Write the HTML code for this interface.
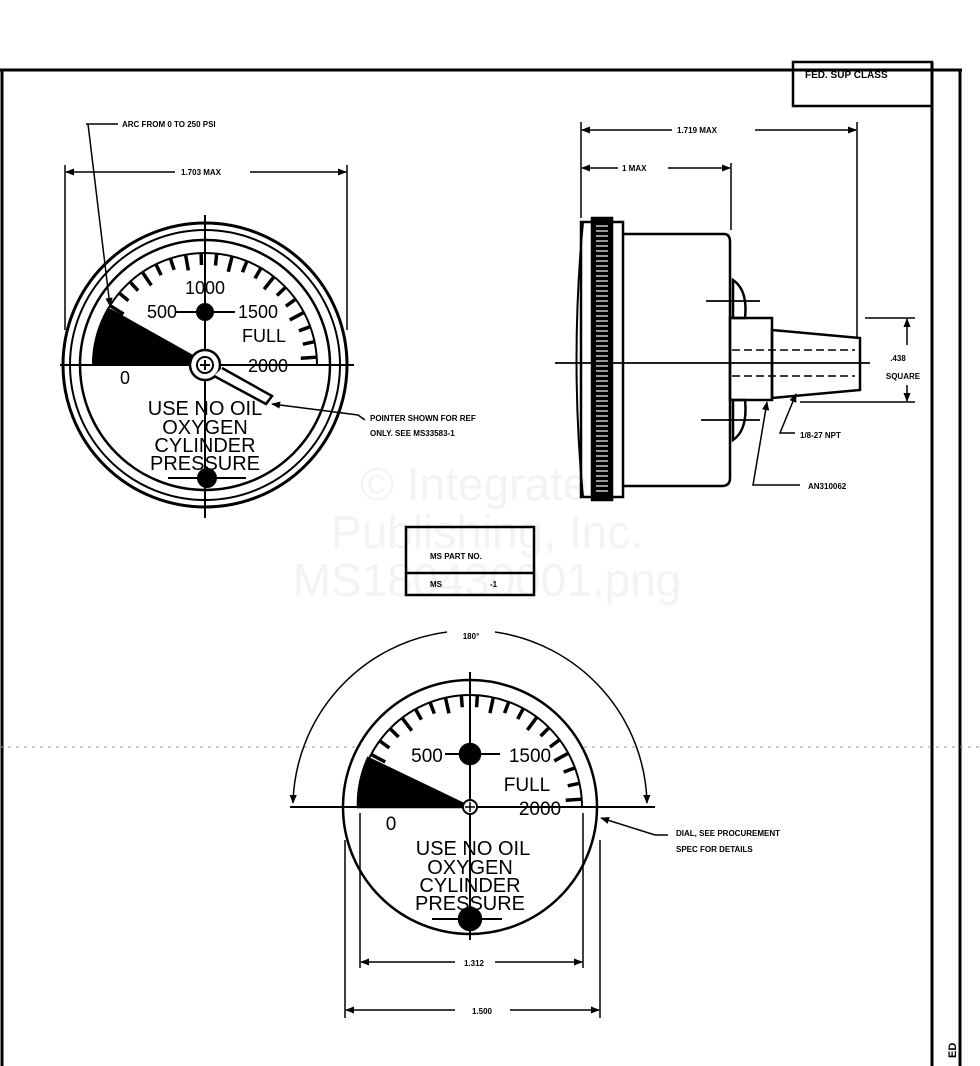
<!DOCTYPE html>
<html><head><meta charset="utf-8"><style>
html,body{margin:0;padding:0;background:#fff;}
svg{display:block;}
.t{font-family:"Liberation Sans",sans-serif;font-weight:bold;fill:#000;}
.d{font-family:"Liberation Sans",sans-serif;fill:#000;}
.w{font-family:"Liberation Sans",sans-serif;fill:#f3f3f3;font-size:46px;}
</style></head><body>
<svg id="s" width="980" height="1066" viewBox="0 0 980 1066" xmlns="http://www.w3.org/2000/svg" stroke="#000" fill="none">
<defs>
<marker id="a" viewBox="0 0 10 10" refX="9" refY="5" markerWidth="6" markerHeight="6" orient="auto-start-reverse"><path d="M0 1 L10 5 L0 9 Z" fill="#000" stroke="none"/></marker>
</defs>
<g stroke="none">
<text class="w" x="487" y="500" text-anchor="middle">© Integrated</text>
<text class="w" x="487" y="548" text-anchor="middle">Publishing, Inc.</text>
<text class="w" x="487" y="596" text-anchor="middle">MS180430001.png</text>
</g>
<line x1="0" y1="70" x2="962" y2="70" stroke-width="3"/>
<line x1="2" y1="70" x2="2" y2="1066" stroke-width="3"/>
<line x1="932" y1="62" x2="932" y2="1066" stroke-width="3"/>
<line x1="960" y1="70" x2="960" y2="1066" stroke-width="3"/>
<rect x="793" y="62" width="139" height="44" stroke-width="2.5"/>
<text class="t" x="805" y="78" font-size="10" stroke="none">FED. SUP CLASS</text>
<text class="t" x="956" y="1058" font-size="11" stroke="none" transform="rotate(-90 956 1058)">ED</text>

<g stroke-width="2">
<circle cx="205" cy="365" r="142" stroke-width="3"/>
<circle cx="205" cy="365" r="135"/>
<circle cx="205" cy="365" r="125" stroke-width="2.5"/>
<path d="M93 365 A112 112 0 0 1 317 365" stroke-width="2"/>
<path d="M205 365 L93 365 A112 112 0 0 1 108 309 Z" fill="#000"/>
<line x1="110" y1="310" x2="192" y2="356" stroke-width="3"/>
<line x1="60" y1="365" x2="354" y2="365"/>
<line x1="205" y1="215" x2="205" y2="518"/>
<circle cx="205" cy="365" r="15" stroke-width="2.5" fill="#fff"/>
<circle cx="205" cy="365" r="8"/>
<line x1="200" y1="365" x2="210" y2="365"/><line x1="205" y1="360" x2="205" y2="370"/>
<path d="M214 376 L266 404 L272 396 L222 368" stroke-width="2.5" fill="#fff"/>
<circle cx="205" cy="312" r="8" fill="#000"/>
<line x1="175" y1="312" x2="235" y2="312"/>
<circle cx="207" cy="478" r="9" fill="#000"/>
<line x1="168" y1="478" x2="246" y2="478"/>
<g id="ticks1"></g>
</g>
<g stroke="none" font-size="18">
<text x="205" y="294" text-anchor="middle" class="d">1000</text>
<text x="162" y="318" text-anchor="middle" class="d">500</text>
<text x="258" y="318" text-anchor="middle" class="d">1500</text>
<text x="264" y="342" text-anchor="middle" class="d">FULL</text>
<text x="268" y="372" text-anchor="middle" class="d">2000</text>
<text x="125" y="384" text-anchor="middle" class="d">0</text>
<text x="205" y="415" text-anchor="middle" font-size="20" class="d">USE NO OIL</text>
<text x="205" y="434" text-anchor="middle" font-size="20" class="d">OXYGEN</text>
<text x="205" y="452" text-anchor="middle" font-size="20" class="d">CYLINDER</text>
<text x="205" y="470" text-anchor="middle" font-size="20" class="d">PRESSURE</text>
</g>
<g stroke-width="1.5">
<line x1="65" y1="165" x2="65" y2="330"/>
<line x1="347" y1="165" x2="347" y2="330"/>
<line x1="175" y1="172" x2="66" y2="172" marker-end="url(#a)"/><line x1="250" y1="172" x2="346" y2="172" marker-end="url(#a)"/>
<polyline points="86,124 118,124"/>
<line x1="88" y1="124" x2="110" y2="306" marker-end="url(#a)"/>
<polyline points="365,420 358,415 272,404" marker-end="url(#a)"/>
</g>
<g stroke="none" class="t" font-size="8">
<text x="122" y="127">ARC FROM 0 TO 250 PSI</text>
<text x="181" y="175">1.703 MAX</text>
<text x="370" y="421">POINTER SHOWN FOR REF</text>
<text x="370" y="436">ONLY.  SEE MS33583-1</text>
</g>

<g stroke-width="2.5">
<path d="M583 222 Q570 360 583 497" stroke-width="2"/>
<rect x="581" y="222" width="42" height="275"/>
<rect x="592" y="218" width="20" height="282" fill="#000"/>
<g id="knurl" stroke="#fff" stroke-width="1.2"></g>
<path d="M623 234 L724 234 Q730 234 730 242 L730 478 Q730 486 722 486 L623 486"/>
<rect x="730" y="318" width="42" height="82"/>
<path d="M772 330 L860 338 L860 390 L772 398 Z"/>
<path d="M733 280 Q748 290 745 318 L733 318 Z M733 400 L745 400 Q748 430 733 440 Z"/>
<line x1="555" y1="363" x2="870" y2="363" stroke-width="1.8"/>
<line x1="706" y1="301" x2="760" y2="301" stroke-width="1.8"/>
<line x1="701" y1="420" x2="760" y2="420" stroke-width="1.8"/>
<g stroke-width="1.5" stroke-dasharray="8 4"><line x1="732" y1="350" x2="855" y2="350"/><line x1="732" y1="376" x2="855" y2="376"/></g>
</g>
<g stroke-width="1.5">
<line x1="581" y1="122" x2="581" y2="218"/>
<line x1="857" y1="122" x2="857" y2="338"/>
<line x1="731" y1="163" x2="731" y2="230"/>
<line x1="672" y1="130" x2="582" y2="130" marker-end="url(#a)"/><line x1="755" y1="130" x2="856" y2="130" marker-end="url(#a)"/>
<line x1="618" y1="168" x2="582" y2="168" marker-end="url(#a)"/><line x1="668" y1="168" x2="730" y2="168" marker-end="url(#a)"/>
<line x1="865" y1="318" x2="915" y2="318"/><line x1="800" y1="402" x2="915" y2="402"/>
<line x1="907" y1="345" x2="907" y2="319" marker-end="url(#a)"/><line x1="907" y1="385" x2="907" y2="401" marker-end="url(#a)"/>
<polyline points="795,433 780,433 796,394" marker-end="url(#a)"/>
<polyline points="800,485 753,485 767,402" marker-end="url(#a)"/>
</g>
<g stroke="none" class="t" font-size="8">
<text x="677" y="133">1.719 MAX</text>
<text x="622" y="171">1 MAX</text>
<text x="898" y="361" text-anchor="middle">.438</text>
<text x="903" y="379" text-anchor="middle">SQUARE</text>
<text x="800" y="438">1/8-27 NPT</text>
<text x="808" y="489">AN310062</text>
</g>

<rect x="406" y="527" width="128" height="68" stroke-width="2.5"/>
<line x1="406" y1="573" x2="534" y2="573" stroke-width="2.5"/>
<g stroke="none" class="t" font-size="8">
<text x="430" y="559">MS PART NO.</text>
<text x="430" y="587">MS</text><text x="490" y="587">-1</text>
</g>

<line x1="0" y1="747" x2="980" y2="747" stroke="#999" stroke-width="1" stroke-dasharray="3 5"/>

<g stroke-width="2.5">
<circle cx="470" cy="807" r="127" fill="#fff"/>
<path d="M358 807 A112 112 0 0 1 582 807" stroke-width="2"/>
<path d="M470 807 L358 807 A112 112 0 0 1 368 758 Z" fill="#000"/>
<line x1="290" y1="807" x2="655" y2="807" stroke-width="2"/>
<line x1="470" y1="672" x2="470" y2="940" stroke-width="2"/>
<circle cx="470" cy="807" r="7" fill="#fff" stroke-width="2"/>
<line x1="465" y1="807" x2="475" y2="807" stroke-width="1.5"/><line x1="470" y1="802" x2="470" y2="812" stroke-width="1.5"/>
<circle cx="470" cy="754" r="10" fill="#000"/>
<line x1="445" y1="754" x2="500" y2="754" stroke-width="2"/>
<circle cx="470" cy="919" r="11" fill="#000"/>
<line x1="432" y1="919" x2="502" y2="919" stroke-width="2"/>
<g id="ticks2"></g>
</g>
<g stroke="none" font-size="19">
<text x="427" y="762" text-anchor="middle" class="d">500</text>
<text x="530" y="762" text-anchor="middle" class="d">1500</text>
<text x="527" y="791" text-anchor="middle" class="d">FULL</text>
<text x="540" y="815" text-anchor="middle" class="d">2000</text>
<text x="391" y="830" text-anchor="middle" class="d">0</text>
<text x="473" y="855" text-anchor="middle" font-size="20" class="d">USE NO OIL</text>
<text x="470" y="874" text-anchor="middle" font-size="20" class="d">OXYGEN</text>
<text x="470" y="892" text-anchor="middle" font-size="20" class="d">CYLINDER</text>
<text x="470" y="910" text-anchor="middle" font-size="20" class="d">PRESSURE</text>
</g>
<g stroke-width="1.5">
<path d="M447 632 A177 177 0 0 0 293 803" marker-end="url(#a)"/>
<path d="M495 632 A177 177 0 0 1 647 803" marker-end="url(#a)"/>
<line x1="360" y1="813" x2="360" y2="968"/><line x1="583" y1="813" x2="583" y2="968"/>
<line x1="345" y1="840" x2="345" y2="1018"/><line x1="600" y1="840" x2="600" y2="1018"/>
<line x1="455" y1="962" x2="361" y2="962" marker-end="url(#a)"/><line x1="495" y1="962" x2="582" y2="962" marker-end="url(#a)"/>
<line x1="455" y1="1010" x2="346" y2="1010" marker-end="url(#a)"/><line x1="510" y1="1010" x2="599" y2="1010" marker-end="url(#a)"/>
<polyline points="668,835 655,835 601,818" marker-end="url(#a)"/>
</g>
<g stroke="none" class="t" font-size="8">
<text x="471" y="639" text-anchor="middle">180°</text>
<text x="474" y="966" text-anchor="middle">1.312</text>
<text x="482" y="1014" text-anchor="middle">1.500</text>
<text x="676" y="836">DIAL, SEE PROCUREMENT</text>
<text x="676" y="852">SPEC FOR DETAILS</text>
</g>
</svg>
<script>
(function(){
var ns="http://www.w3.org/2000/svg";
function ticks(id,cx,cy,a0,a1,n){
 var g=document.getElementById(id);
 for(var i=0;i<=n;i++){
  var a=(a0+(a1-a0)*i/n)*Math.PI/180;
  var r1=112,r2=(i%3==0)?96:100;
  var l=document.createElementNS(ns,"line");
  l.setAttribute("x1",cx+r1*Math.cos(a));l.setAttribute("y1",cy-r1*Math.sin(a));
  l.setAttribute("x2",cx+r2*Math.cos(a));l.setAttribute("y2",cy-r2*Math.sin(a));
  l.setAttribute("stroke-width","3.5");g.appendChild(l);
 }
}
ticks("ticks1",205,365,148,4,18);
ticks("ticks2",470,807,152,4,18);
var k=document.getElementById("knurl");
for(var y=226;y<494;y+=5){var l=document.createElementNS(ns,"line");
 l.setAttribute("x1",596);l.setAttribute("x2",608);l.setAttribute("y1",y);l.setAttribute("y2",y);k.appendChild(l);}
})();
</script>
</body></html>
